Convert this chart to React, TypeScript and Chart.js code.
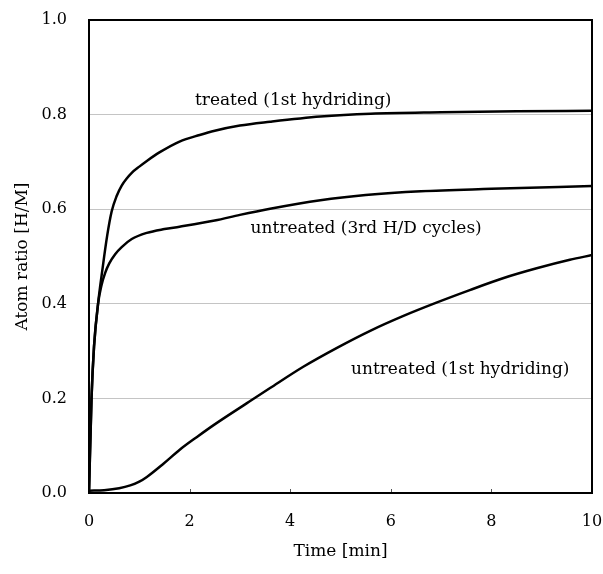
import React, { useEffect, useRef } from "react";
import { Chart, registerables } from "chart.js";

Chart.register(...registerables);

// Time [min] and atom ratio [H/M]
const treatedTime = [0, 0.05, 0.1, 0.18, 0.27, 0.36, 0.45, 0.55, 0.65, 0.75, 0.85, 1.0, 1.15, 1.4, 1.8, 2.2, 2.5, 3.0, 3.6, 4.6, 5.6, 7.0, 8.5, 10];
const treatedRatio = [0, 0.2, 0.31, 0.4, 0.475, 0.543, 0.595, 0.628, 0.65, 0.665, 0.677, 0.69, 0.702, 0.72, 0.743, 0.757, 0.766, 0.777, 0.785, 0.796, 0.802, 0.805, 0.807, 0.808];

const cycle3Time = [0, 0.05, 0.1, 0.18, 0.25, 0.32, 0.4, 0.52, 0.65, 0.85, 1.15, 1.5, 1.8, 2.5, 3.0, 3.6, 4.6, 5.5, 6.6, 8.0, 10];
const cycle3Ratio = [0, 0.2, 0.31, 0.4, 0.44, 0.465, 0.485, 0.505, 0.52, 0.537, 0.55, 0.558, 0.563, 0.576, 0.588, 0.601, 0.619, 0.63, 0.638, 0.643, 0.649];

const firstTime = [0, 0.3, 0.6, 0.82, 1.0, 1.15, 1.48, 1.81, 2.14, 2.47, 3.14, 3.6, 4.26, 4.93, 5.59, 6.24, 6.92, 7.57, 8.23, 8.9, 9.56, 10];
const firstRatio = [0.005, 0.006, 0.01, 0.016, 0.024, 0.034, 0.062, 0.092, 0.118, 0.143, 0.19, 0.222, 0.267, 0.307, 0.343, 0.374, 0.403, 0.429, 0.454, 0.475, 0.493, 0.503];

const xTicks = [0, 2, 4, 6, 8, 10];
const yTicks = [0, 0.2, 0.4, 0.6, 0.8, 1.0];

const curveNames = ["treated (1st hydriding)", "untreated (3rd H/D cycles)", "untreated (1st hydriding)"];
const nameTime = [4.06, 5.51, 7.38];
const nameRatio = [0.829, 0.558, 0.26];

const xTitle = "Time [min]";
const yTitle = "Atom ratio [H/M]";

const FONT = "'DejaVu Serif', serif";

const toPoints = (xs: number[], ys: number[]) => xs.map((x, i) => ({ x, y: ys[i] }));

const noOverflow = (s: any) => {
  s.paddingTop = 0;
  s.paddingBottom = 0;
  s.paddingLeft = 0;
  s.paddingRight = 0;
};

const framePlugin = {
  id: "frame",
  afterDraw(chart: any) {
    const { ctx, chartArea } = chart;
    const xs = chart.scales.x;
    ctx.save();
    // inner tick marks on the bottom axis
    ctx.strokeStyle = "#555";
    ctx.lineWidth = 1;
    xTicks.slice(1, -1).forEach((t) => {
      const px = Math.round(xs.getPixelForValue(t)) + 0.5;
      ctx.beginPath();
      ctx.moveTo(px, chartArea.bottom);
      ctx.lineTo(px, chartArea.bottom - 4);
      ctx.stroke();
    });
    // box
    ctx.strokeStyle = "#000";
    ctx.lineWidth = 2;
    ctx.strokeRect(chartArea.left, chartArea.top, chartArea.right - chartArea.left, chartArea.bottom - chartArea.top);
    // curve names
    const ys = chart.scales.y;
    ctx.fillStyle = "#000";
    ctx.font = `17px ${FONT}`;
    ctx.textAlign = "center";
    ctx.textBaseline = "middle";
    curveNames.forEach((name, i) => {
      ctx.fillText(name, xs.getPixelForValue(nameTime[i]), ys.getPixelForValue(nameRatio[i]));
    });
    ctx.restore();
  },
};

export default function App() {
  const ref = useRef<HTMLCanvasElement>(null);
  useEffect(() => {
    if (!ref.current) return;
    const lineStyle = {
      borderColor: "#000",
      borderWidth: 2.5,
      pointRadius: 0,
      fill: false,
      cubicInterpolationMode: "monotone" as const,
    };
    const chart = new Chart(ref.current, {
      type: "line",
      data: {
        datasets: [
          { label: curveNames[0], data: toPoints(treatedTime, treatedRatio), ...lineStyle },
          { label: curveNames[1], data: toPoints(cycle3Time, cycle3Ratio), ...lineStyle },
          { label: curveNames[2], data: toPoints(firstTime, firstRatio), ...lineStyle },
        ],
      },
      options: {
        responsive: false,
        animation: false,
        layout: { padding: { top: 20, right: 11, left: 0, bottom: 0 } },
        plugins: { legend: { display: false }, tooltip: { enabled: false } },
        scales: {
          x: {
            type: "linear",
            min: 0,
            max: 10,
            afterBuildTicks: (s: any) => {
              s.ticks = xTicks.map((v) => ({ value: v }));
            },
            afterFit: (s: any) => {
              s.height = 81;
              noOverflow(s);
            },
            ticks: {
              color: "#000",
              font: { family: FONT, size: 16 },
              padding: 19,
              maxRotation: 0,
              callback: (v: any) => String(v),
            },
            grid: { display: false, drawTicks: false },
            border: { display: false },
            title: {
              display: true,
              text: xTitle,
              color: "#000",
              font: { family: FONT, size: 17 },
              padding: { top: 0, bottom: 12 },
            },
          },
          y: {
            type: "linear",
            min: 0,
            max: 1,
            afterBuildTicks: (s: any) => {
              s.ticks = yTicks.map((v) => ({ value: v }));
            },
            afterFit: (s: any) => {
              s.width = 89;
              noOverflow(s);
            },
            ticks: {
              color: "#000",
              font: { family: FONT, size: 16 },
              padding: 22,
              callback: (v: any) => Number(v).toFixed(1),
            },
            grid: {
              drawTicks: false,
              lineWidth: 1,
              color: (c: any) => {
                const v = c.tick ? c.tick.value : 0;
                return v <= 0.001 || v >= 0.999 ? "rgba(0,0,0,0)" : "#c4c4c4";
              },
            },
            border: { display: false },
            title: {
              display: true,
              text: yTitle,
              color: "#000",
              font: { family: FONT, size: 17 },
              padding: { top: 12, bottom: 0 },
            },
          },
        },
      },
      plugins: [framePlugin],
    });
    return () => chart.destroy();
  }, []);
  return (
    <div style={{ position: "absolute", left: 0, top: 0, width: 603, height: 574, background: "#fff" }}>
      <canvas ref={ref} width={603} height={574} style={{ display: "block" }} />
    </div>
  );
}
